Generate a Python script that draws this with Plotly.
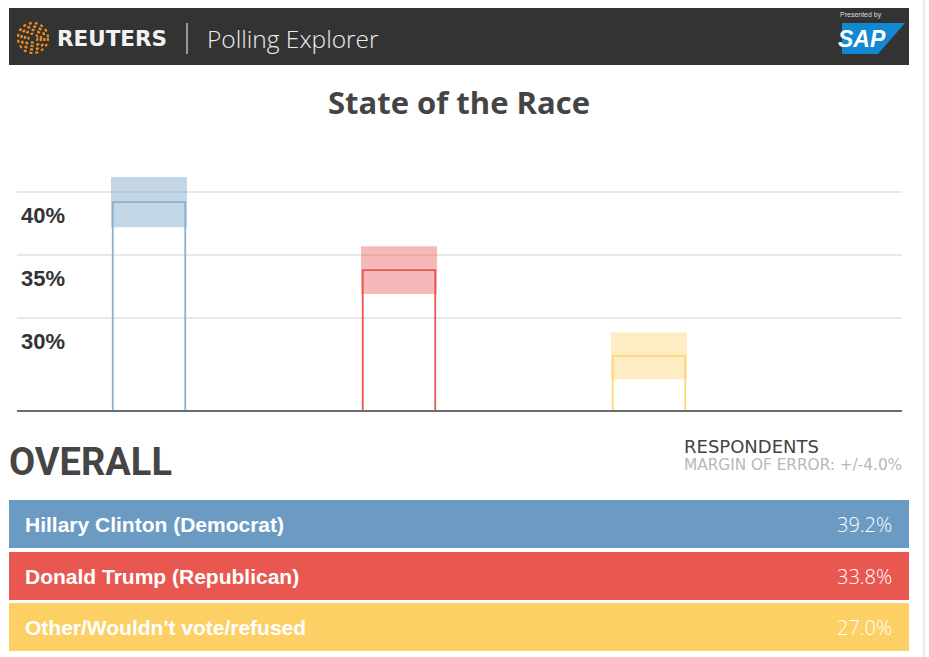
import plotly.graph_objects as go

# ---------------- data ----------------
candidates = ["Hillary Clinton (Democrat)", "Donald Trump (Republican)", "Other/Wouldn't vote/refused"]
short_keys = ["Clinton", "Trump", "Other"]
values = [39.2, 33.8, 27.0]
band_half = [2.0, 1.9, 1.85]
tick_vals = [30, 35, 40]
tick_text = ["30%", "35%", "40%"]
margin_of_error = "+/-4.0%"

row_colors = ["#6b9bc3", "#e85850", "#fdd066"]
band_colors = ["rgba(107,155,195,0.40)", "rgba(236,100,100,0.45)", "rgba(253,208,102,0.40)"]
line_colors = ["#8aafcf", "#e8574f", "#fdd67a"]

W, H = 929, 657
def X(px):
    return px / W
def Y(py):
    return 1 - py / H

fig = go.Figure()

# error bands
fig.add_trace(go.Bar(
    x=short_keys,
    y=[2 * b for b in band_half],
    base=[v - b for v, b in zip(values, band_half)],
    width=0.304,
    marker=dict(color=band_colors, line=dict(width=0)),
    hoverinfo="skip",
    showlegend=False,
))
# outlined bars
fig.add_trace(go.Bar(
    x=short_keys,
    y=values,
    width=0.29,
    marker=dict(color="rgba(0,0,0,0)", line=dict(color=line_colors, width=1.8)),
    hoverinfo="skip",
    showlegend=False,
))

y_bottom, y_top = 22.70, 42.54
fig.update_layout(
    width=W, height=H,
    margin=dict(l=0, r=0, t=0, b=0),
    paper_bgcolor="white",
    plot_bgcolor="white",
    barmode="overlay",
    xaxis=dict(
        domain=[X(17), X(902)],
        type="category",
        range=[-0.528, 3.012],
        showticklabels=False,
        showgrid=False,
        zeroline=False,
        showline=True, linecolor="#6d6d6d", linewidth=2,
        ticks="",
        fixedrange=True,
    ),
    yaxis=dict(
        domain=[Y(410), Y(160)],
        range=[y_bottom, y_top],
        tickvals=tick_vals,
        showticklabels=False,
        showgrid=True, gridcolor="#e8e8e8", gridwidth=1.5,
        zeroline=False,
        showline=False,
        fixedrange=True,
    ),
)

shapes = []
annotations = []

# header bar
shapes.append(dict(type="rect", xref="paper", yref="paper",
                   x0=X(9), x1=X(909), y0=Y(65), y1=Y(8),
                   fillcolor="#333333", line=dict(width=0), layer="below"))
# reuters logo rings
for r, w in [(4.5, 2), (8, 2.4), (11.5, 2.4), (15, 2.2)]:
    shapes.append(dict(type="circle", xref="paper", yref="paper",
                       x0=X(33 - r), x1=X(33 + r), y0=Y(38 + r), y1=Y(38 - r),
                       line=dict(color="#f08a1c", width=w, dash="dot")))
annotations.append(dict(xref="paper", yref="paper", x=X(55), y=Y(38.5),
                        xanchor="left", yanchor="middle", showarrow=False,
                        text="<b>REUTERS</b>",
                        font=dict(family="DejaVu Sans", size=21.5, color="#f2f2f2")))
shapes.append(dict(type="line", xref="paper", yref="paper",
                   x0=X(187), x1=X(187), y0=Y(23), y1=Y(54),
                   line=dict(color="#dddddd", width=1.2)))
annotations.append(dict(xref="paper", yref="paper", x=X(205), y=Y(38.5),
                        xanchor="left", yanchor="middle", showarrow=False,
                        text="Polling Explorer",
                        font=dict(family="Open Sans", size=24.5, color="#eeeeee", weight=300)))
# SAP logo
sap_path = "M {},{} L {},{} L {},{} L {},{} Z".format(
    X(842), Y(23), X(905), Y(23), X(878), Y(54), X(842), Y(54))
shapes.append(dict(type="path", xref="paper", yref="paper", path=sap_path,
                   fillcolor="#1288d3", line=dict(width=0)))
annotations.append(dict(xref="paper", yref="paper", x=X(862), y=Y(39),
                        xanchor="center", yanchor="middle", showarrow=False,
                        text="<b><i>SAP</i></b>",
                        font=dict(family="Liberation Sans", size=23, color="white")))
annotations.append(dict(xref="paper", yref="paper", x=X(861), y=Y(15),
                        xanchor="center", yanchor="middle", showarrow=False,
                        text="Presented by",
                        font=dict(family="Liberation Sans", size=7, color="#dddddd")))

# title
annotations.append(dict(xref="paper", yref="paper", x=X(459), y=Y(102),
                        xanchor="center", yanchor="middle", showarrow=False,
                        text="State of the Race",
                        font=dict(family="Open Sans", size=31, color="#444444", weight=700)))

# y tick labels (below gridlines)
for tv, tt in zip(tick_vals, tick_text):
    annotations.append(dict(xref="paper", yref="y", x=X(19), y=tv, yshift=-23,
                            xanchor="left", yanchor="middle", showarrow=False,
                            text="<b>" + tt + "</b>",
                            font=dict(family="Liberation Sans", size=22, color="#333333")))

# OVERALL section
annotations.append(dict(xref="paper", yref="paper", x=X(7), y=Y(462),
                        xanchor="left", yanchor="middle", showarrow=False,
                        text="OVERALL",
                        font=dict(family="Roboto", size=38, color="#454545", weight=700)))
annotations.append(dict(xref="paper", yref="paper", x=X(682), y=Y(445.5),
                        xanchor="left", yanchor="middle", showarrow=False,
                        height=16, valign="middle",
                        text="RESPONDENTS",
                        font=dict(family="DejaVu Sans", size=18, color="#444444")))
annotations.append(dict(xref="paper", yref="paper", x=X(682), y=Y(465),
                        xanchor="left", yanchor="middle", showarrow=False,
                        height=14, valign="middle",
                        text="MARGIN OF ERROR: " + margin_of_error,
                        font=dict(family="DejaVu Sans", size=15.3, color="#b8b8b8")))

row_tops = [500, 552, 603]
row_h = 48
for name, val, col, top in zip(candidates, values, row_colors, row_tops):
    shapes.append(dict(type="rect", xref="paper", yref="paper",
                       x0=X(9), x1=X(909), y0=Y(top + row_h), y1=Y(top),
                       fillcolor=col, line=dict(width=0), layer="below"))
    annotations.append(dict(xref="paper", yref="paper", x=X(23), y=Y(top + row_h / 2 + 0.5),
                            xanchor="left", yanchor="middle", showarrow=False,
                            text="<b>" + name + "</b>",
                            font=dict(family="Liberation Sans", size=21, color="white")))
    annotations.append(dict(xref="paper", yref="paper", x=X(894), y=Y(top + row_h / 2),
                            xanchor="right", yanchor="middle", showarrow=False,
                            text="{:.1f}%".format(val),
                            font=dict(family="Open Sans", size=20, color="white", weight=300)))

# right page edge line
shapes.append(dict(type="line", xref="paper", yref="paper",
                   x0=X(924), x1=X(924), y0=0, y1=1,
                   line=dict(color="#e4e4e4", width=1.5)))

fig.update_layout(shapes=shapes, annotations=annotations)
fig.write_html("out.html",
               config={"displayModeBar": False},
               post_script="document.body.style.margin='0';document.body.style.overflow='hidden';")
